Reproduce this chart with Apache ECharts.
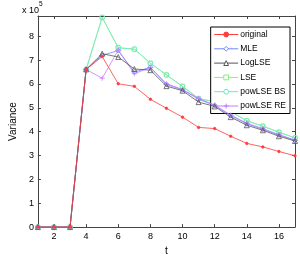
<!DOCTYPE html>
<html><head><meta charset="utf-8">
<script src="https://cdn.jsdelivr.net/npm/echarts@6/dist/echarts.min.js"></script>
<style>html,body{margin:0;padding:0;background:#fff}#c{width:300px;height:261px}</style>
</head><body><div id="c"></div>
<script>
var t = [1,2,3,4,5,6,7,8,9,10,11,12,13,14,15,16,17];
var xTicks = [2,4,6,8,10,12,14,16];
var yTicks = [0,1,2,3,4,5,6,7,8];
var original = [0,0,0,6.61,7.15,6.01,5.90,5.36,4.98,4.61,4.18,4.13,3.81,3.51,3.36,3.17,2.99];
var mle      = [0,0,0,6.61,7.20,7.40,6.50,6.70,5.98,5.76,5.36,5.10,4.67,4.33,4.10,3.86,3.63];
var logLSE   = [0,0,0,6.61,7.27,7.13,6.63,6.58,5.91,5.72,5.24,5.06,4.61,4.27,4.06,3.81,3.61];
var lse      = [0,0,0,6.61,8.79,7.52,7.46,6.87,6.38,5.90,5.39,5.25,4.84,4.46,4.23,3.98,3.74];
var powBS    = [0,0,0,6.61,8.79,7.52,7.46,6.87,6.38,5.90,5.39,5.25,4.84,4.46,4.23,3.98,3.74];
var powRE    = [0,0,0,6.61,6.24,7.42,6.43,6.69,6.01,5.77,5.39,5.12,4.70,4.36,4.13,3.88,3.65];
var names = ['original','MLE','LogLSE','LSE','powLSE BS','powLSE RE'];
var colors = ['#ff3b3b','#6f86ff','#555555','#86f07a','#6fe8c4','#c47bff'];

function pairs(v){ return t.map(function(x,i){ return [x, v[i]]; }); }
var FONT = 'Liberation Sans';
var axisCol = '#444';
var plus = 'path://M5,0L5,10M0,5L10,5';
function ser(name, vals, color, symbol, size, z, fill){
  return {
    name: name, type: 'line', data: pairs(vals), z: z,
    symbol: symbol, symbolSize: size, showAllSymbol: true,
    lineStyle: {color: color, width: 0.8},
    itemStyle: {color: fill ? color : 'none', borderColor: color, borderWidth: 0.8},
    emphasis: {disabled: true}, animation: false
  };
}
var legendData = names.map(function(n, i){
  return {name: n, itemStyle: {color: i === 0 ? colors[i] : '#fff', borderColor: colors[i], borderWidth: 1},
          lineStyle: {color: colors[i], width: 1}};
});
var chart = echarts.init(document.getElementById('c'), null, {renderer: 'canvas'});
chart.setOption({
  animation: false,
  textStyle: {fontFamily: FONT},
  grid: {left: 22, right: 5, top: 16, bottom: 30, containLabel: false,
         show: false},
  xAxis: [{
    type: 'value', min: 1, max: 17, position: 'bottom',
    name: 't', nameLocation: 'middle', nameGap: 11,
    nameTextStyle: {fontFamily: FONT, fontSize: 10, color: '#000'},
    axisLine: {show: true, onZero: false, lineStyle: {color: axisCol, width: 1}},
    axisTick: {show: true, inside: true, length: 3, customValues: xTicks, lineStyle: {color: axisCol}},
    axisLabel: {customValues: xTicks, fontFamily: FONT, fontSize: 9, color: '#000', margin: 5},
    splitLine: {show: false}
  },{
    type: 'value', min: 1, max: 17, position: 'top',
    axisLine: {show: true, onZero: false, lineStyle: {color: axisCol, width: 1}},
    axisTick: {show: true, inside: true, length: 3, customValues: xTicks, lineStyle: {color: axisCol}},
    axisLabel: {show: false}, splitLine: {show: false}
  }],
  yAxis: [{
    type: 'value', min: 0, max: 8.85, position: 'left',
    name: 'Variance', nameLocation: 'middle', nameGap: 14,
    nameTextStyle: {fontFamily: FONT, fontSize: 10, color: '#000'},
    axisLine: {show: true, onZero: false, lineStyle: {color: axisCol, width: 1}},
    axisTick: {show: true, inside: true, length: 3, customValues: yTicks, lineStyle: {color: axisCol}},
    axisLabel: {customValues: yTicks, fontFamily: FONT, fontSize: 9, color: '#000', margin: 4},
    splitLine: {show: false}
  },{
    type: 'value', min: 0, max: 8.85, position: 'right',
    axisLine: {show: true, onZero: false, lineStyle: {color: axisCol, width: 1}},
    axisTick: {show: true, inside: true, length: 3, customValues: yTicks, lineStyle: {color: axisCol}},
    axisLabel: {show: false}, splitLine: {show: false}
  }],
  legend: {
    orient: 'vertical', right: 10, top: 27,
    data: legendData,
    backgroundColor: '#fff', borderColor: '#000', borderWidth: 1,
    padding: [3, 4, 3, 3], itemGap: 5.3, itemWidth: 24, itemHeight: 6,
    lineStyle: {width: 1},
    textStyle: {fontFamily: FONT, fontSize: 8.5, color: '#000', padding: [0,0,0,-3]}
  },
  graphic: [{
    type: 'text', left: 22, top: 1,
    style: {
      text: '{a|x 10}{b|5}',
      rich: {
        a: {fontFamily: FONT, fontSize: 9, fill: '#000', padding: [5,0,0,0]},
        b: {fontFamily: FONT, fontSize: 6.5, fill: '#000', verticalAlign: 'top'}
      }
    }
  }],
  series: [
    ser('original', original, colors[0], 'circle', 2.5, 6, true),
    ser('MLE', mle, colors[1], 'diamond', 5, 4, false),
    ser('LogLSE', logLSE, colors[2], 'triangle', 5, 5, false),
    ser('LSE', lse, colors[3], 'rect', 4, 2, false),
    ser('powLSE BS', powBS, colors[4], 'circle', 5, 3, false),
    ser('powLSE RE', powRE, colors[5], plus, 5, 4, false)
  ]
});
</script></body></html>
